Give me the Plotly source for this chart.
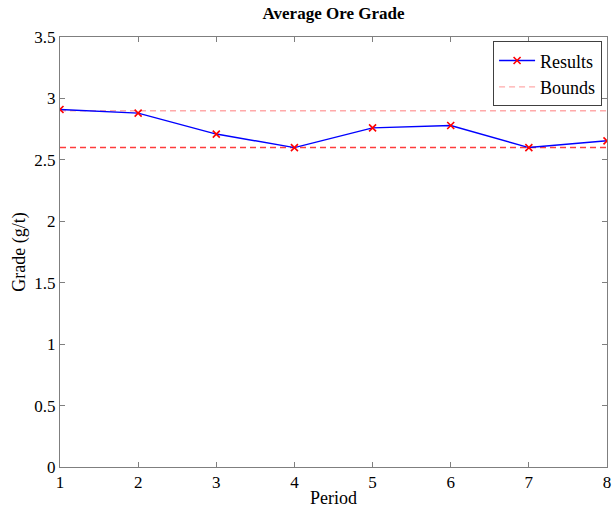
import plotly.graph_objects as go

periods = [1, 2, 3, 4, 5, 6, 7, 8]
grade = [2.91, 2.88, 2.71, 2.60, 2.76, 2.78, 2.60, 2.655]
upper_bound = 2.9
lower_bound = 2.6

y_ticks = [0, 0.5, 1, 1.5, 2, 2.5, 3, 3.5]
y_tick_text = ["0", "0.5", "1", "1.5", "2", "2.5", "3", "3.5"]
x_ticks = periods

font_family = "Liberation Serif"

fig = go.Figure()

fig.add_trace(go.Scatter(
    x=[periods[0], periods[-1]], y=[upper_bound, upper_bound],
    mode="lines", name="Bounds",
    line=dict(color="#ffaaaa", width=1.4, dash="6px,4px"),
    showlegend=True, legendrank=2,
))
fig.add_trace(go.Scatter(
    x=[periods[0], periods[-1]], y=[lower_bound, lower_bound],
    mode="lines", name="Bounds",
    line=dict(color="#ff3c3c", width=1.5, dash="6px,4px"),
    showlegend=False,
))
fig.add_trace(go.Scatter(
    x=periods, y=grade, mode="lines+markers", name="Results",
    line=dict(color="#0000ff", width=1.4),
    marker=dict(symbol="x-thin", size=7, line=dict(color="#ff0000", width=1.6)),
    legendrank=1,
))

axis_common = dict(
    showline=True, linecolor="#7f7f7f", linewidth=1,
    mirror="ticks", ticks="inside", ticklen=5, tickcolor="#7f7f7f",
    showgrid=False, zeroline=False,
    tickfont=dict(family=font_family, size=17, color="#000000"),
)

fig.update_layout(
    width=612, height=508,
    margin=dict(l=60, r=5, t=37, b=41, autoexpand=False),
    paper_bgcolor="white", plot_bgcolor="white",
    title=dict(text="<b>Average Ore Grade</b>", x=0.545, xanchor="center",
               y=0.975, yanchor="middle",
               font=dict(family=font_family, size=17, color="#000000")),
    xaxis=dict(range=[1, 8], tickvals=x_ticks,
               title=dict(text="Period", standoff=0,
                          font=dict(family=font_family, size=18, color="#000000")),
               **axis_common),
    yaxis=dict(range=[0, 3.5], tickvals=y_ticks, ticktext=y_tick_text,
               title=dict(text="Grade (g/t)", standoff=4,
                          font=dict(family=font_family, size=18, color="#000000")),
               **axis_common),
    legend=dict(x=0.991, y=0.99, xanchor="right", yanchor="top",
                bgcolor="white", bordercolor="#404040", borderwidth=1,
                font=dict(family=font_family, size=18, color="#000000"),
                tracegroupgap=0, itemwidth=36),
    showlegend=True,
)

fig.write_html("out.html")
